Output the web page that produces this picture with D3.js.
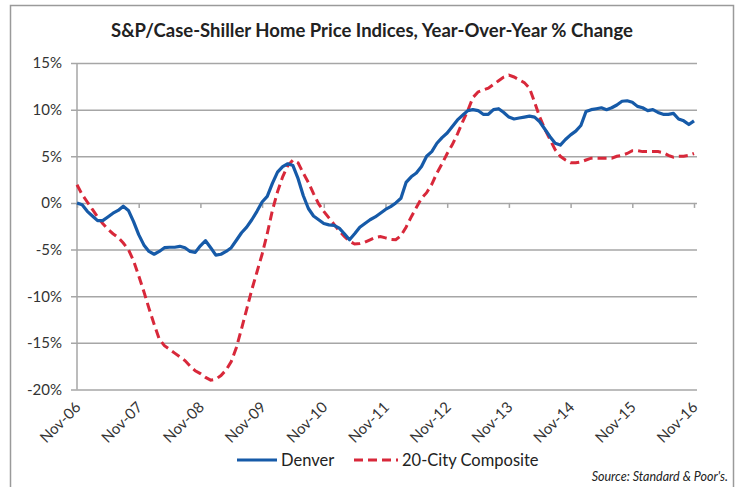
<!DOCTYPE html>
<html>
<head>
<meta charset="utf-8">
<script src="https://cdn.jsdelivr.net/npm/d3@7"></script>
<style>
  html, body { margin: 0; padding: 0; background: #fff; }
  svg { display: block; }
  text { font-family: Lato, "Open Sans", sans-serif; }
</style>
</head>
<body>
<svg id="chart" width="738" height="487"></svg>
<script>
// ---- data (monthly, Nov-06 .. Nov-16) ----
const title = "S&P/Case-Shiller Home Price Indices, Year-Over-Year % Change";
const tickLabels = ["Nov-06","Nov-07","Nov-08","Nov-09","Nov-10","Nov-11","Nov-12","Nov-13","Nov-14","Nov-15","Nov-16"];
const yTicks = [-20, -15, -10, -5, 0, 5, 10, 15];
const seriesNames = ["Denver", "20-City Composite"];
const denver = [
  0.0, -0.2, -0.9, -1.4, -1.9, -1.9, -1.5, -1.1, -0.8, -0.35, -0.8, -2.0,
  -3.4, -4.5, -5.2, -5.5, -5.2, -4.8, -4.75, -4.75, -4.65, -4.8, -5.2, -5.3,
  -4.6, -4.05, -4.8, -5.6, -5.5, -5.2, -4.8, -4.0, -3.2, -2.6, -1.8, -0.9,
  0.1, 0.7, 2.1, 3.3, 3.9, 4.2, 4.0, 2.6, 0.8, -0.6, -1.4, -1.8,
  -2.2, -2.35, -2.4, -2.7, -3.3, -3.95, -3.3, -2.6, -2.2, -1.8, -1.5, -1.1,
  -0.7, -0.4, 0.0, 0.5, 2.2, 2.8, 3.2, 3.9, 5.0, 5.5, 6.4, 7.0,
  7.5, 8.2, 8.9, 9.4, 9.9, 10.0, 9.9, 9.5, 9.5, 10.0, 10.1, 9.7,
  9.2, 9.0, 9.1, 9.2, 9.3, 9.2, 8.7, 7.9, 7.1, 6.4, 6.2, 6.8,
  7.3, 7.7, 8.3, 9.8, 10.0, 10.1, 10.2, 10.0, 10.2, 10.5, 10.9, 10.95,
  10.8, 10.35, 10.2, 9.9, 10.0, 9.7, 9.5, 9.5, 9.6, 9.0, 8.8, 8.4,
  8.8
];
const composite = [
  1.95, 0.9, 0.1, -0.7, -1.5, -2.2, -2.8, -3.3, -3.7, -4.3, -5.0, -6.2,
  -7.8, -9.5, -11.3, -13.0, -14.6, -15.3, -15.7, -16.1, -16.5, -16.9, -17.5, -18.0,
  -18.3, -18.7, -19.0, -18.9, -18.5, -17.9, -17.0, -15.5, -13.5, -11.4, -9.3, -7.4,
  -5.5, -3.3, -0.8, 1.2, 2.8, 4.0, 4.6, 4.3, 3.2, 2.2, 1.0, -0.1,
  -0.9, -1.6, -2.3, -3.0, -3.6, -4.1, -4.4, -4.35, -4.2, -3.95, -3.7, -3.6,
  -3.75, -3.9, -3.95, -3.5, -2.6, -1.5, -0.5, 0.5, 1.1, 2.0, 3.2, 4.2,
  5.3, 6.25, 7.4, 8.7, 9.9, 11.3, 11.9, 12.1, 12.3, 12.7, 13.1, 13.5,
  13.7, 13.5, 13.2, 12.9, 12.3, 10.8, 9.2, 7.9, 6.8, 5.7, 5.0, 4.6,
  4.3, 4.3, 4.4, 4.6, 4.8, 4.8, 4.8, 4.8, 4.8, 5.0, 5.1, 5.3,
  5.6, 5.6, 5.5, 5.5, 5.5, 5.5, 5.4, 5.1, 4.9, 5.0, 5.0, 5.1,
  5.3
];
const sourceText = "Source: Standard & Poor's.";

(function () {
// ---- layout ----
const svg = d3.select("#chart");
const pL = 77, pR = 694, pT = 63, pB = 389.5;

// outer frame
svg.append("rect").attr("x", 10.5).attr("y", 5.5).attr("width", 723).attr("height", 490)
  .attr("fill", "#fff").attr("stroke", "#9a9a9a").attr("stroke-width", 1.5);

const x = d3.scaleLinear().domain([0, 120]).range([pL, pR]);
const y = d3.scaleLinear().domain([-20, 15]).range([pB, pT]);

// title
svg.append("text").attr("x", 372).attr("y", 37).attr("text-anchor", "middle")
  .attr("font-size", 18.5).attr("font-weight", 700).attr("fill", "#222").text(title);

// gridlines + y axis
const yAxis = d3.axisLeft(y).tickValues(yTicks).tickSize(-(697 - pL)).tickPadding(15)
  .tickFormat(d => d + "%");
const gy = svg.append("g").attr("transform", `translate(${pL},0)`).call(yAxis);
gy.select(".domain").remove();
gy.selectAll(".tick line").attr("stroke", "#a6a6a6").attr("stroke-width", 1.5).attr("x1", -6);
gy.selectAll(".tick text").attr("font-size", 15).attr("fill", "#333").attr("font-family", "Lato, sans-serif");

// vertical axis line
svg.append("line").attr("x1", pL).attr("x2", pL).attr("y1", pT).attr("y2", pB)
  .attr("stroke", "#a6a6a6").attr("stroke-width", 1.5);

// x axis at 0% with ticks
const xAxis = d3.axisBottom(x).tickValues(d3.range(0, 121, 12)).tickSize(5).tickFormat("");
const gx = svg.append("g").attr("transform", `translate(0,${y(0)})`).call(xAxis);
gx.select(".domain").remove();
gx.selectAll(".tick line").attr("stroke", "#a6a6a6").attr("stroke-width", 1.5);

// x labels at the bottom, rotated
svg.append("g").selectAll("text").data(tickLabels).join("text")
  .attr("transform", (d, i) => `translate(${x(i * 12) + 2},${pB + 16}) rotate(-45)`)
  .attr("text-anchor", "end").attr("dominant-baseline", "middle")
  .attr("font-size", 15).attr("fill", "#333").text(d => d);

// lines
const line = d3.line().x((d, i) => x(i)).y(d => y(d)).curve(d3.curveLinear);
svg.append("path").datum(composite).attr("d", line).attr("fill", "none")
  .attr("stroke", "#d8283a").attr("stroke-width", 3).attr("stroke-dasharray", "9,5");
svg.append("path").datum(denver).attr("d", line).attr("fill", "none")
  .attr("stroke", "#165aa8").attr("stroke-width", 3.2).attr("stroke-linejoin", "round");

// legend
const ly = 460;
svg.append("line").attr("x1", 237).attr("x2", 277).attr("y1", ly).attr("y2", ly)
  .attr("stroke", "#165aa8").attr("stroke-width", 3.2);
svg.append("text").attr("x", 281).attr("y", ly + 5.5).attr("font-size", 16.5).attr("fill", "#222").text(seriesNames[0]);
svg.append("line").attr("x1", 354).attr("x2", 398).attr("y1", ly).attr("y2", ly)
  .attr("stroke", "#d8283a").attr("stroke-width", 3).attr("stroke-dasharray", "9,5");
svg.append("text").attr("x", 402).attr("y", ly + 5.5).attr("font-size", 16.5).attr("fill", "#222").text(seriesNames[1]);

// source
svg.append("text").attr("x", 728).attr("y", 481).attr("text-anchor", "end")
  .attr("font-size", 12.5).attr("font-style", "italic").attr("fill", "#222").text(sourceText);
})();
</script>
</body>
</html>
